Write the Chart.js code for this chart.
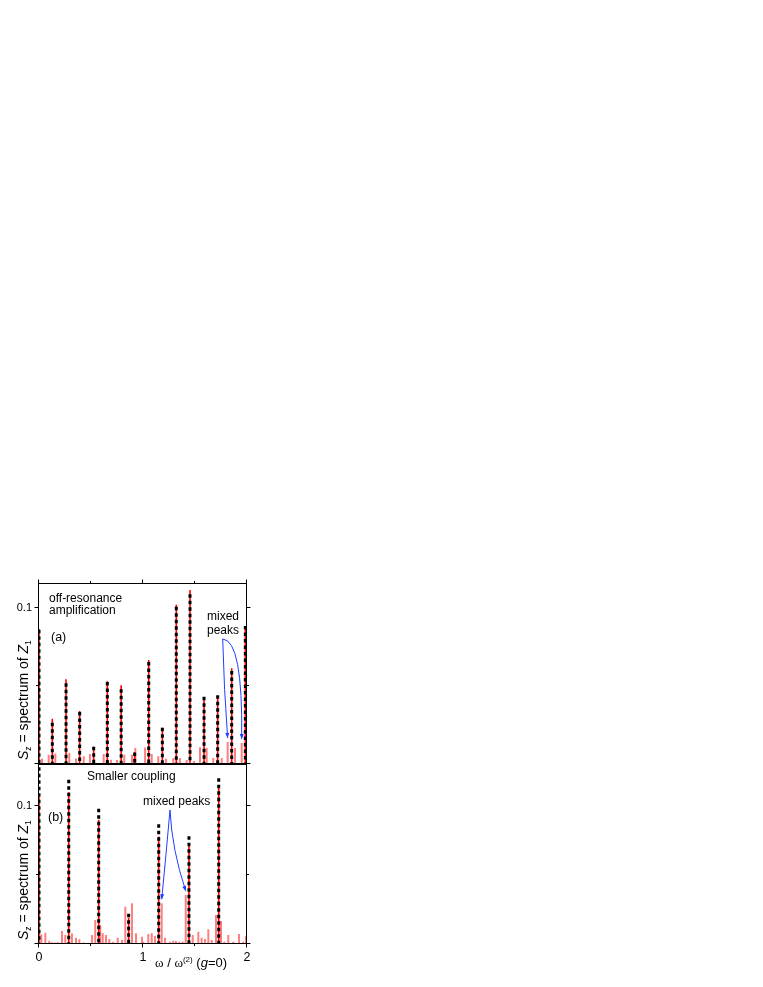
<!DOCTYPE html>
<html lang="en">
    <head>
        <meta charset="utf-8" />
        <title>Spectrum of Z1</title>
        <style>
            html, body { margin: 0; padding: 0; background: #fff; }
            body { position: relative; width: 763px; height: 987px; overflow: hidden; }
            canvas { position: absolute; left: 0; }
            #spectrumA { top: 575px; }
            #spectrumB { top: 764px; }
        </style>
    </head>
    <body>
        <canvas id="spectrumA" width="260" height="195"></canvas>
        <canvas id="spectrumB" width="260" height="223"></canvas>
        <script src="https://cdn.jsdelivr.net/npm/chart.js@4.4.1/dist/chart.umd.min.js"></script>
        <script>
            // axis ranges and ticks
            const X_RANGE = [0, 2];
            const X_MAJOR = [0, 1, 2];
            const X_MINOR = [0.5, 1.5];
            const Y_MAJOR = [0, 0.1];
            const Y_MINOR = [0.05];
            const Y_LABELED = [0.1];

            // (a) off-resonance amplification
            const peaksA = [0, 0.128, 0.26, 0.391, 0.526, 0.657, 0.79, 0.92, 1.055, 1.186, 1.32, 1.452, 1.587, 1.718, 1.853, 1.984];
            const redA   = [0.0865, 0.029, 0.0543, 0.034, 0.011, 0.053, 0.0504, 0.0073, 0.0667, 0.0233, 0.102, 0.1115, 0.0425, 0.043, 0.0613, 0.0885];
            const blackA = [0.086, 0.0265, 0.0517, 0.0333, 0.011, 0.0526, 0.0479, 0.0073, 0.0654, 0.0233, 0.1008, 0.1088, 0.0431, 0.044, 0.0596, 0.0885];
            const sideA  = [0.029, 0.093, 0.157, 0.291, 0.356, 0.43, 0.49, 0.622, 0.692, 0.75, 0.82, 0.894, 0.926, 1.02, 1.084, 1.147, 1.221, 1.291, 1.356, 1.42, 1.49, 1.548, 1.612, 1.676, 1.757, 1.814, 1.885, 1.949];
            const sideHA = [0.0036, 0.006, 0.0068, 0.007, 0.0036, 0.0049, 0.0064, 0.0064, 0.0028, 0.0026, 0.006, 0.006, 0.0103, 0.0105, 0.0064, 0.0049, 0.0034, 0.0038, 0.0038, 0.0025, 0.002, 0.0107, 0.0103, 0.0038, 0.0038, 0.0141, 0.0103, 0.0135];
            const mixedA = [25, 27]; // indices into sideA

            // (b) smaller coupling
            const peaksB = [0, 0.286, 0.574, 0.862, 1.151, 1.442, 1.728];
            const redB   = [0.107, 0.110, 0.090, 0.019, 0.0778, 0.073, 0.113];
            const blackB = [0.128, 0.119, 0.098, 0.022, 0.0867, 0.078, 0.120];
            const sideB  = [0.022, 0.061, 0.099, 0.125, 0.157, 0.180, 0.221, 0.253, 0.317, 0.356, 0.388, 0.430, 0.510, 0.541, 0.589, 0.613, 0.644, 0.676, 0.714, 0.757, 0.798, 0.830, 0.894, 0.933, 0.990, 1.003, 1.051, 1.084, 1.115, 1.180, 1.212, 1.260, 1.291, 1.317, 1.349, 1.382, 1.411, 1.478, 1.532, 1.564, 1.596, 1.628, 1.661, 1.702, 1.750, 1.782, 1.820, 1.868, 1.923, 1.964, 1.990];
            const sideHB = [0.0070, 0.0082, 0.0024, 0.0012, 0.001, 0.0012, 0.0094, 0.0065, 0.0077, 0.0046, 0.0034, 0.001, 0.0065, 0.0174, 0.0138, 0.0077, 0.0065, 0.0036, 0.0017, 0.0046, 0.0029, 0.027, 0.0295, 0.0077, 0.0053, 0.0017, 0.0072, 0.0077, 0.0058, 0.0295, 0.0046, 0.0017, 0.0024, 0.0022, 0.0017, 0.0017, 0.0355, 0.0065, 0.0089, 0.0046, 0.0036, 0.0106, 0.0029, 0.021, 0.0167, 0.0017, 0.0065, 0.0017, 0.0072, 0.0017, 0.0058];
            const mixedB = [29, 36]; // indices into sideB

            const SANS = '"Liberation Sans", Arial, sans-serif';
            const SERIF = '"Liberation Serif", "Times New Roman", serif';

            // vertical sticks separated by gaps
            function sticks(xs, hs) {
                const pts = [];
                xs.forEach((x, i) => { pts.push({x: x, y: hs[i]}, {x: x, y: 0}, {x: x, y: null}); });
                return pts;
            }
            // one continuous trace: baseline with spikes
            function trace(xs, hs) {
                const pts = [{x: X_RANGE[0], y: 0}];
                xs.forEach((x, i) => { pts.push({x: x, y: 0}, {x: x, y: hs[i]}, {x: x, y: 0}); });
                pts.push({x: X_RANGE[1], y: 0});
                return pts;
            }

            function drawRun(ctx, x, y, parts) {
                parts.forEach(p => {
                    ctx.font = (p.i ? 'italic ' : '') + (p.s || 12) + 'px ' + (p.f || SANS);
                    ctx.fillText(p.t, x, y + (p.dy || 0));
                    x += ctx.measureText(p.t).width;
                });
            }

            function arrow(ctx, sx, sy, cx, cy, ex, ey) {
                ctx.beginPath();
                ctx.moveTo(sx, sy);
                ctx.quadraticCurveTo(cx, cy, ex, ey);
                ctx.stroke();
                const ang = Math.atan2(ey - cy, ex - cx), c = Math.cos(ang), s = Math.sin(ang);
                ctx.beginPath();
                ctx.moveTo(ex, ey);
                ctx.lineTo(ex - 5 * c + 2 * s, ey - 5 * s - 2 * c);
                ctx.lineTo(ex - 5 * c - 2 * s, ey - 5 * s + 2 * c);
                ctx.closePath();
                ctx.fill();
            }

            const yTitle = [
                {t: 'S', i: true, s: 14}, {t: 'z', s: 8.5, dy: 3},
                {t: ' = spectrum of ', s: 14},
                {t: 'Z', i: true, s: 14}, {t: '1', s: 8.5, dy: 3}
            ];
            const xTitle = [
                {t: 'ω', s: 13, f: SERIF}, {t: ' / ', s: 13}, {t: 'ω', s: 13, f: SERIF},
                {t: '(2)', s: 8, dy: -5}, {t: ' (', s: 13}, {t: 'g', i: true, s: 13}, {t: '=0)', s: 13}
            ];

            const panelDecor = {
                id: 'panelDecor',
                afterDraw(chart, args, o) {
                    const ctx = chart.ctx, a = chart.chartArea, xs = chart.scales.x, ys = chart.scales.y;
                    const line = (x1, y1, x2, y2) => { ctx.beginPath(); ctx.moveTo(x1, y1); ctx.lineTo(x2, y2); ctx.stroke(); };
                    ctx.save();
                    ctx.strokeStyle = '#000';
                    ctx.fillStyle = '#000';
                    ctx.lineWidth = 1;
                    ctx.strokeRect(a.left - 0.5, a.top + 0.5, a.right - a.left, a.bottom - a.top - 1);

                    Y_MAJOR.concat(Y_MINOR).forEach(v => {
                        const len = Y_MAJOR.includes(v) ? 4 : 2.5;
                        const py = Math.round(ys.getPixelForValue(v)) - 0.5;
                        line(a.left - 0.5 - len, py, a.left - 0.5, py);
                        line(a.right - 0.5, py, a.right - 0.5 + len, py);
                    });
                    X_MAJOR.concat(X_MINOR).forEach(v => {
                        const len = X_MAJOR.includes(v) ? 4 : 2.5;
                        const px = Math.round(xs.getPixelForValue(v)) - 0.5;
                        if (o.xSide === 'top') line(px, a.top + 0.5 - len, px, a.top + 0.5);
                        else line(px, a.bottom - 0.5, px, a.bottom - 0.5 + len);
                    });

                    ctx.font = '11px ' + SANS;
                    ctx.textAlign = 'right';
                    ctx.textBaseline = 'middle';
                    Y_LABELED.forEach(v => ctx.fillText(String(v), a.left - 7, ys.getPixelForValue(v)));

                    ctx.textBaseline = 'alphabetic';
                    if (o.xLabels) {
                        ctx.font = '12.5px ' + SANS;
                        ctx.textAlign = 'center';
                        X_MAJOR.forEach(v => ctx.fillText(String(v), xs.getPixelForValue(v), a.bottom + 17));
                        ctx.textAlign = 'left';
                        drawRun(ctx, xs.getPixelForValue(1) + 12, a.bottom + 23, xTitle);
                    }

                    ctx.textAlign = 'left';
                    ctx.save();
                    ctx.translate(28, a.bottom - 4);
                    ctx.rotate(-Math.PI / 2);
                    drawRun(ctx, 0, 0, yTitle);
                    ctx.restore();

                    o.notes.forEach(n => drawRun(ctx, a.left + n.x, a.top + n.y, [{t: n.t, s: n.s || 12}]));

                    ctx.strokeStyle = '#1f3cff';
                    ctx.fillStyle = '#1f3cff';
                    ctx.lineWidth = 1;
                    o.arrows.forEach(r => {
                        arrow(ctx, a.left + r.sx, a.top + r.sy, a.left + r.cx, a.top + r.cy,
                            xs.getPixelForValue(r.at[0]), ys.getPixelForValue(r.at[1]) - 4);
                    });
                    ctx.restore();
                }
            };

            function makeChart(id, d) {
                const common = {pointRadius: 0, tension: 0, fill: false, spanGaps: false};
                return new Chart(document.getElementById(id), {
                    type: 'line',
                    data: {
                        datasets: [
                            Object.assign({data: sticks(d.peaks, d.black), borderColor: '#000', borderWidth: 3, borderDash: [3.5, 3], order: 0}, common),
                            Object.assign({data: trace(d.peaks, d.red), borderColor: '#ff0000', borderWidth: 1.6, order: 1}, common),
                            Object.assign({data: sticks(d.side, d.sideH), borderColor: 'rgba(255,0,0,0.5)', borderWidth: 2, order: 2}, common)
                        ]
                    },
                    options: {
                        responsive: false,
                        animation: false,
                        events: [],
                        layout: {padding: d.padding},
                        scales: {
                            x: {type: 'linear', min: X_RANGE[0], max: X_RANGE[1], display: false},
                            y: {type: 'linear', min: 0, max: d.yMax, display: false}
                        },
                        plugins: {
                            legend: {display: false},
                            tooltip: {enabled: false},
                            panelDecor: d.decor
                        }
                    },
                    plugins: [panelDecor]
                });
            }

            makeChart('spectrumA', {
                peaks: peaksA, red: redA, black: blackA, side: sideA, sideH: sideHA,
                yMax: 0.116,
                padding: {left: 39, right: 13, top: 8, bottom: 6},
                decor: {
                    xSide: 'top',
                    xLabels: false,
                    notes: [
                        {t: 'off-resonance', x: 10, y: 19},
                        {t: 'amplification', x: 10, y: 31},
                        {t: '(a)', x: 12, y: 58, s: 12.5},
                        {t: 'mixed', x: 168, y: 37},
                        {t: 'peaks', x: 168, y: 51}
                    ],
                    arrows: [
                        {sx: 183.7, sy: 56, cx: 185, cy: 107, at: [sideA[mixedA[0]], sideHA[mixedA[0]]]},
                        {sx: 183.7, sy: 56, cx: 204, cy: 57, at: [sideA[mixedA[1]], sideHA[mixedA[1]]]}
                    ]
                }
            });

            makeChart('spectrumB', {
                peaks: peaksB, red: redB, black: blackB, side: sideB, sideH: sideHB,
                yMax: 0.1304,
                padding: {left: 39, right: 13, top: 0, bottom: 43},
                decor: {
                    xSide: 'bottom',
                    xLabels: true,
                    notes: [
                        {t: 'Smaller coupling', x: 48, y: 16},
                        {t: '(b)', x: 9, y: 57, s: 12.5},
                        {t: 'mixed peaks', x: 104, y: 41}
                    ],
                    arrows: [
                        {sx: 131, sy: 46, cx: 127, cy: 91, at: [sideB[mixedB[0]], sideHB[mixedB[0]]]},
                        {sx: 131, sy: 46, cx: 133, cy: 86, at: [sideB[mixedB[1]], sideHB[mixedB[1]]]}
                    ]
                }
            });
        </script>
    </body>
</html>
